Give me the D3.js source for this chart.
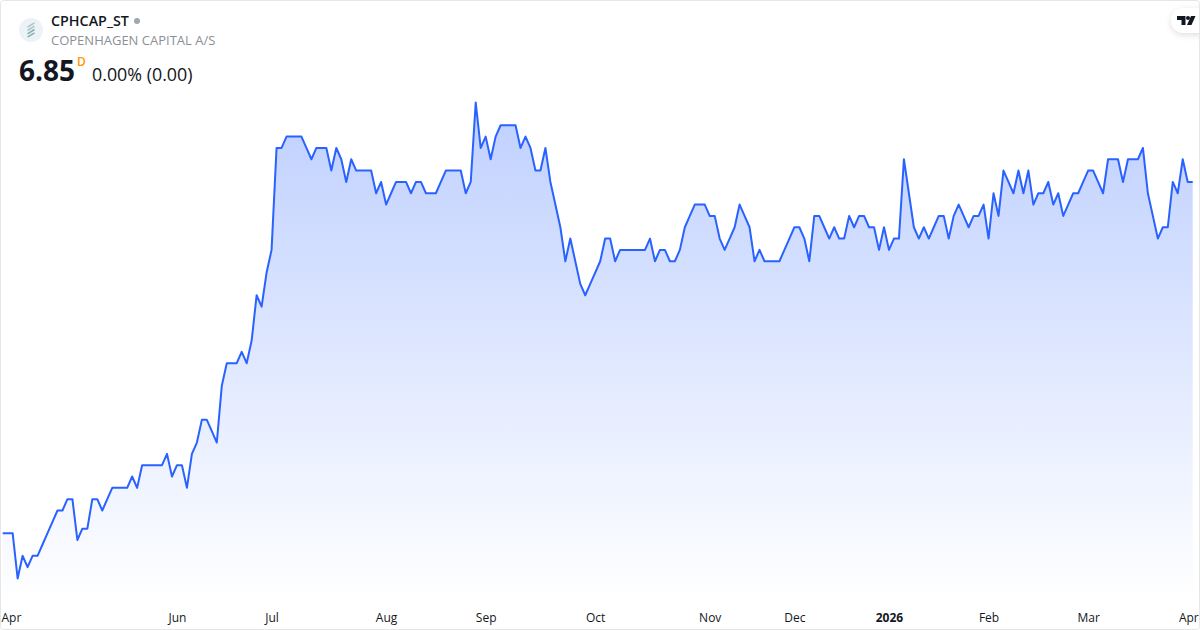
<!DOCTYPE html>
<html><head><meta charset="utf-8">
<script src="https://cdn.jsdelivr.net/npm/d3@7/dist/d3.min.js"></script>
<style>
html,body{margin:0;padding:0;background:#fff;overflow:hidden}
svg{display:block}
text{font-family:"Open Sans","Noto Sans",sans-serif}
</style></head><body><div id="chart"></div>
<script>
const symbol="CPHCAP_ST", company="COPENHAGEN CAPITAL A/S", lastPrice="6.85", interval="D", change="0.00% (0.00)";
const closes=[
5.30,5.30,5.30,5.10,5.20,5.15,5.20,5.20,5.25,5.30,5.35,5.40,5.40,5.45,5.45,5.27,5.32,5.32,5.45,5.45,
5.40,5.45,5.50,5.50,5.50,5.50,5.55,5.50,5.60,5.60,5.60,5.60,5.60,5.65,5.55,5.60,5.60,5.50,5.65,5.70,
5.80,5.80,5.75,5.70,5.95,6.05,6.05,6.05,6.10,6.05,6.15,6.35,6.30,6.45,6.55,7.00,7.00,7.05,7.05,7.05,
7.05,7.00,6.95,7.00,7.00,7.00,6.90,7.00,6.95,6.85,6.95,6.90,6.90,6.90,6.90,6.80,6.85,6.75,6.80,6.85,
6.85,6.85,6.80,6.85,6.85,6.80,6.80,6.80,6.85,6.90,6.90,6.90,6.90,6.80,6.85,7.20,7.00,7.05,6.95,7.05,
7.10,7.10,7.10,7.10,7.00,7.05,7.00,6.90,6.90,7.00,6.85,6.75,6.65,6.50,6.60,6.50,6.40,6.35,6.40,6.45,
6.50,6.60,6.60,6.50,6.55,6.55,6.55,6.55,6.55,6.55,6.60,6.50,6.55,6.55,6.50,6.50,6.55,6.65,6.70,6.75,
6.75,6.75,6.70,6.70,6.60,6.55,6.60,6.65,6.75,6.70,6.65,6.50,6.55,6.50,6.50,6.50,6.50,6.55,6.60,6.65,
6.65,6.60,6.50,6.70,6.70,6.65,6.60,6.65,6.60,6.60,6.70,6.65,6.70,6.70,6.65,6.65,6.55,6.65,6.55,6.60,
6.60,6.95,6.80,6.65,6.60,6.65,6.60,6.65,6.70,6.70,6.60,6.70,6.75,6.70,6.65,6.70,6.70,6.75,6.60,6.80,
6.70,6.90,6.85,6.80,6.90,6.80,6.90,6.75,6.80,6.80,6.85,6.75,6.80,6.70,6.75,6.80,6.80,6.85,6.90,6.90,
6.85,6.80,6.95,6.95,6.95,6.85,6.95,6.95,6.95,7.00,6.80,6.70,6.60,6.65,6.65,6.85,6.80,6.95,6.85,6.85];
const tickIndexes=[0,35,54,77,97,119,142,159,178,198,218,238];
const tickLabels=["Apr","Jun","Jul","Aug","Sep","Oct","Nov","Dec","2026","Feb","Mar","Apr"];

const W=1200,H=630;
const svg=d3.select("#chart").append("svg").attr("width",W).attr("height",H);
const defs=svg.append("defs");
const grad=defs.append("linearGradient").attr("id","areaFill").attr("gradientUnits","userSpaceOnUse")
 .attr("x1",0).attr("x2",0).attr("y1",102).attr("y2",601);
grad.append("stop").attr("offset",0).attr("stop-color","#2962ff").attr("stop-opacity",0.3);
grad.append("stop").attr("offset",1).attr("stop-color","#2962ff").attr("stop-opacity",0);
const shadow=defs.append("filter").attr("id","pillShadow").attr("x","-30%").attr("y","-40%").attr("width","160%").attr("height","200%");
shadow.append("feDropShadow").attr("dx",0).attr("dy",2).attr("stdDeviation",3).attr("flood-color","#000").attr("flood-opacity",0.13);

const x=d3.scaleLinear().domain([0,closes.length-1]).range([2.7,1192.7]);
const y=d3.scaleLinear().domain([5.10,7.20]).range([578.5,102.6]);
const baseY=601;

svg.append("path").datum(closes).attr("fill","url(#areaFill)")
 .attr("d",d3.area().x((d,i)=>x(i)).y0(baseY).y1(d=>y(d)));
svg.append("path").datum(closes).attr("fill","none").attr("stroke","#2962ff").attr("stroke-width",2)
 .attr("stroke-linejoin","round").attr("d",d3.line().x((d,i)=>x(i)).y(d=>y(d)));

const axis=d3.axisBottom(x).tickValues(tickIndexes).tickSize(0).tickPadding(0)
 .tickFormat((d,i)=>tickLabels[i]);
const gx=svg.append("g").attr("transform","translate(0,613)").call(axis);
gx.select(".domain").remove();
gx.selectAll("text").attr("font-size",12).attr("fill","#131722").attr("dy","0.71em")
 .style("font-family",'"Open Sans","Noto Sans",sans-serif')
 .attr("font-weight",(d,i)=>tickLabels[i]==="2026"?700:400)
 .attr("text-anchor",(d,i)=>i===0?"start":(i===tickLabels.length-1?"end":"middle"))
 .attr("dx",(d,i)=>i===0?-1.7:(i===tickLabels.length-1?10.5:0));

// legend
const logo=svg.append("g").attr("transform","translate(31,30)");
logo.append("circle").attr("r",12).attr("fill","#edf2f8");
[-5,-1.7,1.7,5].forEach(o=>logo.append("path").attr("d",`M-3.5 ${o+2.2}L3.5 ${o-2.2}`).attr("stroke",o<0?"#a9c4c4":"#7fb5a3").attr("stroke-width",1.5).attr("fill","none"));
svg.append("text").attr("x",51).attr("y",26).attr("font-size",14.3).attr("font-weight",600).attr("fill","#131722").text(symbol);
svg.append("circle").attr("cx",137).attr("cy",21).attr("r",3).attr("fill","#a3a6af");
svg.append("text").attr("x",51).attr("y",45).attr("font-size",13).attr("fill","#8c8f98").text(company);
svg.append("text").attr("x",19).attr("y",81).attr("font-size",28).attr("font-weight",700).attr("fill","#131722").text(lastPrice);
svg.append("text").attr("x",77).attr("y",66).attr("font-size",12).attr("font-weight",600).attr("fill","#ff9800").text(interval);
svg.append("text").attr("x",92).attr("y",81).attr("font-size",17.85).attr("fill","#131722").text(change);

// TradingView badge
svg.append("rect").attr("x",1171).attr("y",8).attr("width",50).attr("height",25).attr("rx",12.5).attr("fill","#fff").attr("filter","url(#pillShadow)");
svg.append("path").attr("fill","#131722").attr("d","M1177 16h8.500v9h-4v-5h-4.500z");
svg.append("circle").attr("cx",1188).attr("cy",18).attr("r",2).attr("fill","#131722");
svg.append("path").attr("fill","#131722").attr("d","M1191 16h4.500l-4 9h-4.500z");

// frame
svg.append("rect").attr("x",0.5).attr("y",0.5).attr("width",W-1).attr("height",H-1).attr("rx",3).attr("fill","none").attr("stroke","#e6e6e6");
</script></body></html>
